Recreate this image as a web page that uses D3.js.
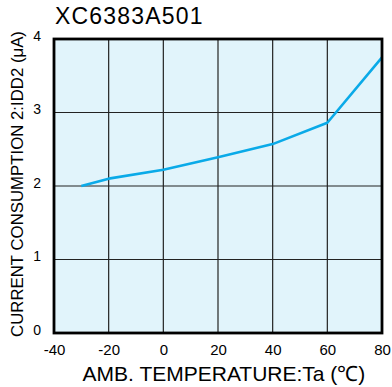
<!DOCTYPE html>
<html><head><meta charset="utf-8">
<script src="https://cdn.jsdelivr.net/npm/d3@7"></script>
<style>body{margin:0;background:#fff}svg{display:block}text{font-family:"Liberation Sans",Arial,sans-serif}</style>
</head><body>
<script>
const temps = [-30, -20, 0, 20, 40, 60, 80];
const idd2 = [2.0, 2.1, 2.22, 2.39, 2.57, 2.86, 3.75];
const xTicks = [-40, -20, 0, 20, 40, 60, 80];
const yTicks = [0, 1, 2, 3, 4];
const title = "XC6383A501";
const xLabel = "AMB. TEMPERATURE:Ta (\u2103)";
const yLabel = "CURRENT CONSUMPTION 2:IDD2 (\u03bcA)";

const W = 392, H = 387;
const m = {l:54, r:10, t:39, b:54};
const svg = d3.select("body").append("svg").attr("width", W).attr("height", H);
const x = d3.scaleLinear().domain([-40, 80]).range([m.l, W - m.r]);
const y = d3.scaleLinear().domain([0, 4]).range([H - m.b, m.t]);

svg.append("rect").attr("x", x(-40)).attr("y", y(4)).attr("width", x(80) - x(-40)).attr("height", y(0) - y(4)).attr("fill", "#e1f4fb");

const g = svg.append("g");
g.selectAll(".vg").data(xTicks.slice(1, -1)).enter().append("line")
  .attr("x1", d => x(d)).attr("x2", d => x(d)).attr("y1", y(0)).attr("y2", y(4))
  .attr("stroke", "#222").attr("stroke-width", 1.2);
g.selectAll(".hg").data(yTicks.slice(1, -1)).enter().append("line")
  .attr("y1", d => y(d)).attr("y2", d => y(d)).attr("x1", x(-40)).attr("x2", x(80))
  .attr("stroke", "#222").attr("stroke-width", 1.2);

const line = d3.line().x((d, i) => x(temps[i])).y(d => y(d));
svg.append("path").datum(idd2).attr("d", line).attr("fill", "none")
  .attr("stroke", "#0aaae8").attr("stroke-width", 2.6).attr("stroke-linejoin", "round");

svg.append("rect").attr("x", x(-40)).attr("y", y(4)).attr("width", x(80) - x(-40)).attr("height", y(0) - y(4))
  .attr("fill", "none").attr("stroke", "#000").attr("stroke-width", 2.8);

const xa = svg.append("g").attr("transform", `translate(0,${y(0)})`)
  .call(d3.axisBottom(x).tickValues(xTicks).tickSize(0).tickPadding(10).tickFormat(d => String(d)));
xa.select(".domain").remove();
xa.selectAll("text").attr("font-size", 15).attr("fill", "#000").attr("dy", null).attr("y", 22)
  .style("font-family", "'Liberation Sans',Arial,sans-serif");

const ya = svg.append("g").attr("transform", `translate(${x(-40)},0)`)
  .call(d3.axisLeft(y).tickValues(yTicks).tickSize(0).tickPadding(13).tickFormat(d => String(d)));
ya.select(".domain").remove();
ya.selectAll("text").attr("font-size", 14).attr("fill", "#000").attr("dy", "0.1em").style("font-family", "'Liberation Sans',Arial,sans-serif");

svg.append("text").attr("x", 55).attr("y", 24).attr("font-size", 23).attr("letter-spacing", 1.2).attr("fill", "#000").text(title);
svg.append("text").attr("x", 224).attr("y", 381).attr("text-anchor", "middle").attr("font-size", 21).attr("fill", "#000").text(xLabel);
svg.append("text").attr("transform", `translate(23,${184}) rotate(-90)`).attr("text-anchor", "middle")
  .attr("font-size", 16.8).attr("fill", "#000").text(yLabel);
</script>
</body></html>
